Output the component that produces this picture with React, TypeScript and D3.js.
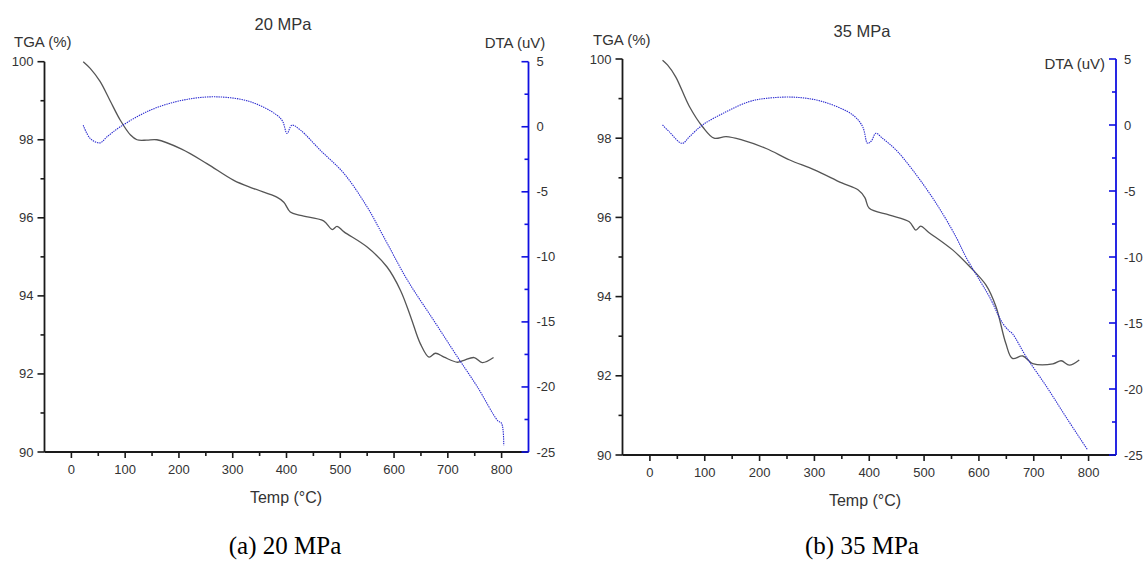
import React from "react";
import * as d3 from "d3";

// ---------- data ----------
const xTicksMajor = [0, 100, 200, 300, 400, 500, 600, 700, 800];
const xTicksMinor = [50, 150, 250, 350, 450, 550, 650, 750];
const tgaTicksMajor = [90, 92, 94, 96, 98, 100];
const tgaTicksMinor = [91, 93, 95, 97, 99];
const dtaTicksMajor = [-25, -20, -15, -10, -5, 0, 5];
const dtaTicksMinor = [-22.5, -17.5, -12.5, -7.5, -2.5, 2.5];

// Panel (a) 20 MPa
const tgaTemp20 = [22, 35, 53, 72, 91, 110, 122, 140, 159, 205, 252, 302, 339, 382, 395, 407, 426, 469, 485, 494, 507, 550, 587, 612, 631, 649, 665, 677, 693, 718, 730, 749, 764, 785];
const tga20 = [100, 99.83, 99.5, 99.0, 98.5, 98.12, 98.0, 97.99, 98.0, 97.76, 97.39, 96.96, 96.75, 96.53, 96.4, 96.15, 96.06, 95.92, 95.7, 95.78, 95.64, 95.25, 94.74, 94.14, 93.46, 92.77, 92.43, 92.53, 92.43, 92.3, 92.35, 92.42, 92.29, 92.42];
const dtaTemp20 = [22, 35, 53, 66, 91, 147, 208, 270, 333, 382, 393, 401, 410, 426, 463, 507, 550, 581, 625, 674, 718, 755, 793, 800, 804];
const dta20 = [0.12, -0.9, -1.24, -0.78, 0.0, 1.28, 2.05, 2.3, 1.92, 0.9, 0.4, -0.52, 0.12, -0.26, -1.81, -3.6, -6.17, -8.48, -11.8, -14.9, -17.7, -20.0, -22.6, -22.8, -24.5];

// Panel (b) 35 MPa
const tgaTemp35 = [23, 32, 47, 72, 96, 117, 139, 169, 212, 255, 300, 350, 380, 392, 400, 437, 473, 485, 494, 507, 552, 583, 613, 631, 649, 661, 680, 698, 735, 750, 765, 783];
const tga35 = [99.97, 99.85, 99.55, 98.8, 98.29, 98.0, 98.04, 97.95, 97.74, 97.45, 97.2, 96.87, 96.69, 96.5, 96.23, 96.06, 95.89, 95.68, 95.78, 95.64, 95.18, 94.76, 94.29, 93.75, 92.82, 92.44, 92.5, 92.31, 92.3, 92.38, 92.27, 92.4];
const dtaTemp35 = [23, 35, 59, 72, 96, 139, 181, 212, 266, 315, 370, 388, 397, 404, 412, 424, 449, 479, 522, 558, 576, 601, 619, 643, 655, 661, 686, 723, 760, 798];
const dta35 = [0.0, -0.5, -1.39, -0.89, 0.0, 1.0, 1.77, 2.02, 2.1, 1.77, 0.76, -0.13, -1.39, -1.2, -0.63, -1.0, -1.9, -3.4, -5.93, -8.46, -9.98, -11.74, -13.0, -15.0, -15.6, -15.8, -17.55, -19.8, -22.2, -24.6];

const titles = ["20 MPa", "35 MPa"];
const captions = ["(a) 20 MPa", "(b) 35 MPa"];
const xLabel = "Temp (°C)";
const tgaLabel = "TGA (%)";
const dtaLabel = "DTA (uV)";

// ---------- layout ----------
const W = 1146;
const H = 565;
const FONT = "'Liberation Sans', Arial, Helvetica, sans-serif";
const SERIF = "'Liberation Serif', 'Times New Roman', serif";

const panels = [
  {
    left: 44.5, right: 528.5, top: 61.7, bottom: 452,
    tgaT: tgaTemp20, tga: tga20, dtaT: dtaTemp20, dta: dta20,
    title: titles[0], caption: captions[0],
    titleX: 283, titleY: 30,
    tgaLabelX: 14, tgaLabelY: 47,
    dtaLabelX: 515, dtaLabelY: 48, dtaAnchor: "middle",
    xLabelX: 286, xLabelY: 503,
    capX: 285, capY: 554,
  },
  {
    left: 622.5, right: 1116, top: 59, bottom: 455,
    tgaT: tgaTemp35, tga: tga35, dtaT: dtaTemp35, dta: dta35,
    title: titles[1], caption: captions[1],
    titleX: 862, titleY: 37,
    tgaLabelX: 593, tgaLabelY: 45,
    dtaLabelX: 1105, dtaLabelY: 69, dtaAnchor: "end",
    xLabelX: 865, xLabelY: 506,
    capX: 862, capY: 554,
  },
];

function Panel({ p }: { p: any }) {
  const x = d3.scaleLinear().domain([-50, 850]).range([p.left, p.right]);
  const yT = d3.scaleLinear().domain([90, 100]).range([p.bottom, p.top]);
  const yD = d3.scaleLinear().domain([-25, 5]).range([p.bottom, p.top]);

  const tgaPts: [number, number][] = p.tgaT.map((t: number, i: number) => [t, p.tga[i]]);
  const dtaPts: [number, number][] = p.dtaT.map((t: number, i: number) => [t, p.dta[i]]);

  const tgaLine = d3.line<[number, number]>()
    .x((d) => x(d[0]))
    .y((d) => yT(d[1]))
    .curve(d3.curveCatmullRom.alpha(0.5));
  const dtaLine = d3.line<[number, number]>()
    .x((d) => x(d[0]))
    .y((d) => yD(d[1]))
    .curve(d3.curveCatmullRom.alpha(0.5));

  const axisColor = "#1a1a1a";
  const blue = "#1010e0";
  const textColor = "#333";

  return (
    <g>
      {/* curves */}
      <path d={tgaLine(tgaPts) || ""} fill="none" stroke="#555" strokeWidth={1.3} />
      <path d={dtaLine(dtaPts) || ""} fill="none" stroke="#2a2ad0" strokeWidth={1.1} strokeDasharray="1.4 0.9" />

      {/* x axis */}
      <line x1={p.left} x2={p.right} y1={p.bottom} y2={p.bottom} stroke={axisColor} strokeWidth={1.8} />
      {xTicksMajor.map((t) => (
        <g key={"xm" + t}>
          <line x1={x(t)} x2={x(t)} y1={p.bottom} y2={p.bottom + 6} stroke={axisColor} strokeWidth={1.6} />
          <text x={x(t)} y={p.bottom + 22} textAnchor="middle" fontSize={13} fill={textColor} fontFamily={FONT}>{t}</text>
        </g>
      ))}
      {xTicksMinor.map((t) => (
        <line key={"xn" + t} x1={x(t)} x2={x(t)} y1={p.bottom} y2={p.bottom + 4} stroke={axisColor} strokeWidth={1.6} />
      ))}

      {/* TGA axis */}
      <line x1={p.left} x2={p.left} y1={p.top} y2={p.bottom} stroke={axisColor} strokeWidth={1.8} />
      {tgaTicksMajor.map((t) => (
        <g key={"tm" + t}>
          <line x1={p.left - 7} x2={p.left} y1={yT(t)} y2={yT(t)} stroke={axisColor} strokeWidth={1.6} />
          <text x={p.left - 11} y={yT(t) + 4.5} textAnchor="end" fontSize={13} fill={textColor} fontFamily={FONT}>{t}</text>
        </g>
      ))}
      {tgaTicksMinor.map((t) => (
        <line key={"tn" + t} x1={p.left - 4} x2={p.left} y1={yT(t)} y2={yT(t)} stroke={axisColor} strokeWidth={1.6} />
      ))}

      {/* DTA axis */}
      <line x1={p.right} x2={p.right} y1={p.top} y2={p.bottom} stroke={blue} strokeWidth={1.8} />
      {dtaTicksMajor.map((t) => (
        <g key={"dm" + t}>
          <line x1={p.right - 7} x2={p.right} y1={yD(t)} y2={yD(t)} stroke={blue} strokeWidth={1.6} />
          <text x={p.right + 8} y={yD(t) + 4.5} textAnchor="start" fontSize={13} fill={textColor} fontFamily={FONT}>{t}</text>
        </g>
      ))}
      {dtaTicksMinor.map((t) => (
        <line key={"dn" + t} x1={p.right - 4} x2={p.right} y1={yD(t)} y2={yD(t)} stroke={blue} strokeWidth={1.6} />
      ))}

      {/* labels */}
      <text x={p.titleX} y={p.titleY} textAnchor="middle" fontSize={16.5} fill={textColor} fontFamily={FONT}>{p.title}</text>
      <text x={p.tgaLabelX} y={p.tgaLabelY} textAnchor="start" fontSize={15} fill={textColor} fontFamily={FONT}>{tgaLabel}</text>
      <text x={p.dtaLabelX} y={p.dtaLabelY} textAnchor={p.dtaAnchor} fontSize={15} fill={textColor} fontFamily={FONT}>{dtaLabel}</text>
      <text x={p.xLabelX} y={p.xLabelY} textAnchor="middle" fontSize={16} fill={textColor} fontFamily={FONT}>{xLabel}</text>
      <text x={p.capX} y={p.capY} textAnchor="middle" fontSize={25} fill="#000" fontFamily={SERIF}>{p.caption}</text>
    </g>
  );
}

export default function App() {
  return (
    <svg
      width={W}
      height={H}
      viewBox={`0 0 ${W} ${H}`}
      style={{ position: "absolute", left: 0, top: 0, background: "#fff" }}
    >
      <rect x={0} y={0} width={W} height={H} fill="#fff" />
      {panels.map((p, i) => (
        <Panel key={i} p={p} />
      ))}
    </svg>
  );
}
